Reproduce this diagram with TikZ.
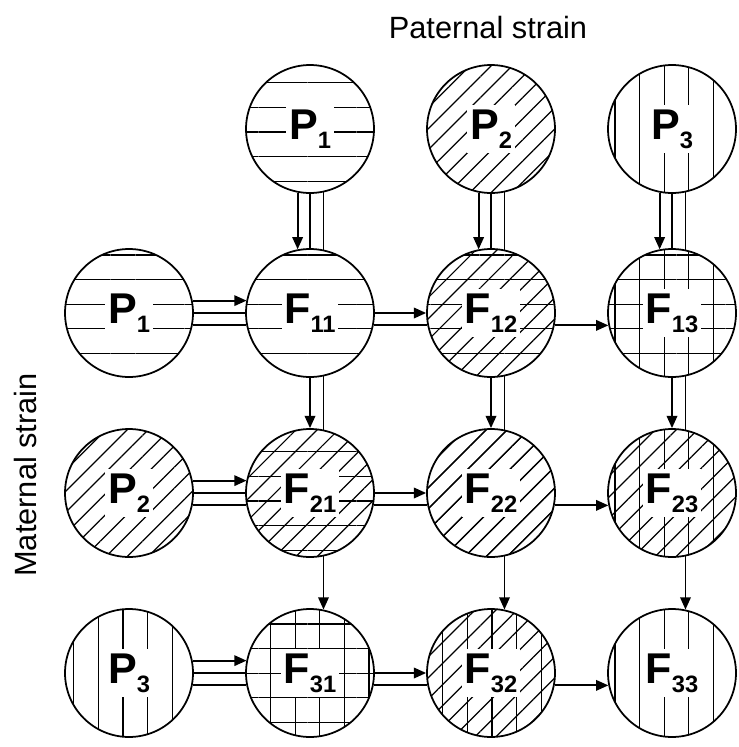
\documentclass[tikz,border=0pt]{standalone}
\usepackage{fontspec}
\setmainfont{Liberation Sans}
\usetikzlibrary{patterns.meta, arrows.meta}

\tikzset{
  strain/.style={circle, draw, line width=1pt, fill=white, minimum size=2.56cm, inner sep=0pt},
  hor/.style={postaction={pattern={Lines[angle=0,distance=14pt,line width=0.7pt]}}},
  dia/.style={postaction={pattern={Lines[angle=45,distance=8.5pt,line width=0.7pt]}}},
  ver/.style={postaction={pattern={Lines[angle=90,distance=14pt,line width=0.7pt]}}},
  s1/.style={hor}, s2/.style={dia}, s3/.style={ver},
  tag/.style={fill=white, inner xsep=1.5pt, inner ysep=2.5pt, font=\bfseries\fontsize{24.5}{24.5}\selectfont},
  axis/.style={font=\fontsize{17.5}{17.5}\selectfont},
  cross/.style={line width=1.1pt, -{Triangle[length=7pt,width=6pt]}},
  rail/.style={line width=1.1pt},
}
\newcommand{\idx}[1]{\raisebox{-5pt}{\fontsize{13.5}{13.5}\selectfont #1}}

\begin{document}
\begin{tikzpicture}[x=0.02cm, y=-0.02cm]
  \useasboundingbox (0,0) rectangle (739,747);

  \node[axis] (paternal) at (488,28) {Paternal strain};
  \node[axis, rotate=90] (maternal) at (26,475) {Maternal strain};

  % parents: along the top and down the left side
  \foreach \i/\x in {1/310, 2/491, 3/672}
  {
    \node[strain, s\i] (top\i) at (\x,129) {};
    \node[tag] (top\i t) at (top\i) {P\idx{\i}};
  }
  \foreach \i/\y in {1/313, 2/493, 3/673}
  {
    \node[strain, s\i] (left\i) at (129,\y) {};
    \node[tag] (left\i t) at (left\i) {P\idx{\i}};
  }

  % crosses F_ij, hatched with both parents
  \foreach \i/\y in {1/313, 2/493, 3/673}
    \foreach \j/\x in {1/310, 2/491, 3/672}
    {
      \node[strain, s\i, s\j] (F\i\j) at (\x,\y) {};
      \node[tag] (F\i\j t) at (F\i\j) {F\idx{\i\j}};
    }

  % down the columns
  \foreach \j in {1,2,3}
  {
    \draw[cross] (top\j.-101.3) -- (top\j.-101.3 |- F1\j.101.3);
    \draw[rail] (top\j.-90) -- (F1\j.90);
    \draw[rail] (top\j.-78.7) -- (top\j.-78.7 |- F1\j.78.7);
    \draw[cross] (F1\j.-90) -- (F2\j.90);
    \draw[rail] (F1\j.-78.7) -- (F1\j.-78.7 |- F2\j.78.7);
    \draw[cross] (F2\j.-78.7) -- (F2\j.-78.7 |- F3\j.78.7);
  }

  % along the rows
  \foreach \i in {1,2,3}
  {
    \draw[cross] (left\i.11.3) -- (left\i.11.3 -| F\i1.168.7);
    \draw[rail] (left\i.0) -- (F\i1.180);
    \draw[rail] (left\i.-11.3) -- (left\i.-11.3 -| F\i1.191.3);
    \draw[cross] (F\i1.0) -- (F\i2.180);
    \draw[rail] (F\i1.-11.3) -- (F\i1.-11.3 -| F\i2.191.3);
    \draw[cross] (F\i2.-11.3) -- (F\i2.-11.3 -| F\i3.191.3);
  }
\end{tikzpicture}
\end{document}
